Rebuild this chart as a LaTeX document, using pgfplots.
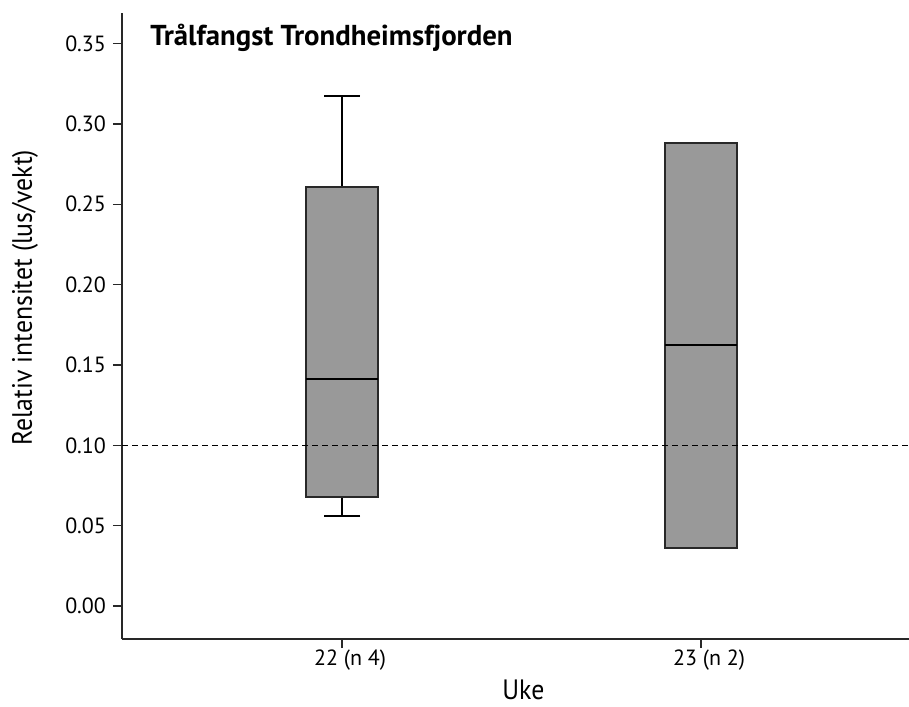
\documentclass[border=0pt]{standalone}
\usepackage{pgfplots}
\pgfplotsset{compat=1.18}
\usepgfplotslibrary{statistics}
\usepackage{fontspec}
\setmainfont{PT Sans}
\newfontfamily\condfont{PT Sans}[FakeStretch=0.92]
\definecolor{boxgray}{RGB}{153,153,153}
\definecolor{edgegray}{RGB}{40,40,40}
\begin{document}
\begin{tikzpicture}
\begin{axis}[
  name=ax,
  scale only axis,
  width=393.5pt, height=313pt,
  xmin=0.387, xmax=2.579,
  ymin=-0.0205, ymax=0.369,
  axis x line*=bottom, axis y line*=left,
  axis line style={-, edgegray, line width=0.7pt},
  tick align=outside, major tick length=4.5pt,
  tick style={edgegray, line width=0.7pt},
  xtick={1,2}, xticklabels={22 (n 4), 23 (n 2)},
  ytick={0,0.05,...,0.35},
  yticklabel style={/pgf/number format/fixed, /pgf/number format/fixed zerofill,
    /pgf/number format/precision=2, font=\fontsize{11}{12}\selectfont},
  /pgf/number format/assume math mode=true,
  xticklabel style={font=\fontsize{11}{12}\selectfont, yshift=2.5pt, xshift=4pt},
  xlabel={Uke}, ylabel={Relativ intensitet (lus/vekt)},
  label style={font=\condfont\fontsize{14}{16}\selectfont},
  xlabel style={at={(axis description cs:0.51,-0.0974)}, anchor=base, inner sep=0pt},
  ylabel style={at={(axis description cs:-0.1144,0.545)}, anchor=base},
  boxplot/draw direction=y,
  clip=false,
]
% week 22
\addplot+[boxplot prepared={lower whisker=0.0560, lower quartile=0.0678, median=0.1413,
  upper quartile=0.2607, upper whisker=0.3174, draw position=1,
  box extend=0.2, whisker extend=0.1},
  draw=edgegray, fill=boxgray, line width=0.75pt, solid,
  boxplot/every median/.style={black, line width=1.4pt},
  boxplot/every whisker/.style={black, line width=0.8pt}]
  coordinates {};
% week 23
\addplot+[boxplot prepared={lower whisker=0.0361, lower quartile=0.0361, median=0.1624,
  upper quartile=0.2881, upper whisker=0.2881, draw position=2,
  box extend=0.2, whisker extend=0.1},
  draw=edgegray, fill=boxgray, line width=0.75pt, solid,
  boxplot/every median/.style={black, line width=1.4pt},
  boxplot/every whisker/.style={black, line width=0.8pt}]
  coordinates {};
% reference level
\addplot[black, dash pattern=on 3pt off 2pt, line width=0.5pt] coordinates {(0.387,0.10) (2.579,0.10)};
\node[anchor=base west, inner sep=0pt, font=\bfseries\fontsize{14.4}{16}\selectfont] at (rel axis cs:0.0356,0.948) {Trålfangst Trondheimsfjorden};
\end{axis}
\pgfresetboundingbox
\path[use as bounding box] ([shift={(-61pt,-33.5pt)}]ax.south west) rectangle ([shift={(0pt,6.5pt)}]ax.north east);
\end{tikzpicture}
\end{document}
